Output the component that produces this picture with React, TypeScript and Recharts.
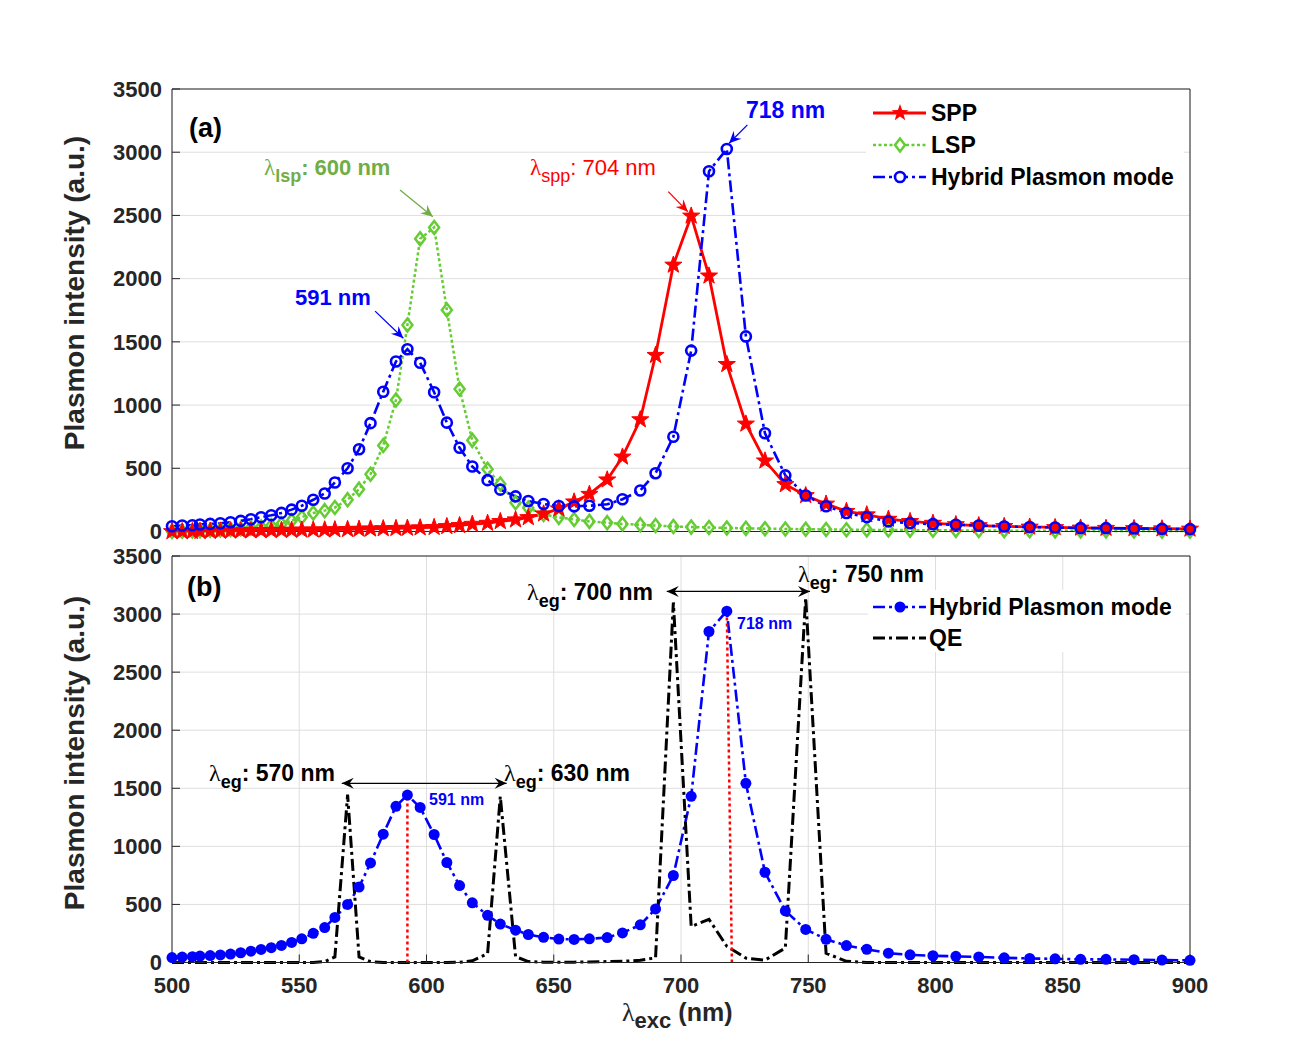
import React from 'react'
import { LineChart, Line, XAxis, YAxis, CartesianGrid, ReferenceLine } from 'recharts'

const C = {
  red: '#ff0000', green: '#66cc33', olive: '#70ad47', blue: '#0000ff',
  black: '#000000', axis: '#262626', grid: '#dedede',
}
const FONT = '"Liberation Sans", Arial, Helvetica, sans-serif'
const SERIF = '"Liberation Serif", "Times New Roman", serif'

// excitation wavelength (nm), shared by every curve
const wavelength = [
  500, 504, 508, 511, 515, 519, 523, 527, 531, 535, 539, 543, 547, 551, 555.5, 560,
  564, 569, 573.5, 578, 583, 588, 592.5, 597.5, 603, 608, 613, 618, 624, 629, 635, 640,
  646, 652, 658, 664, 671, 677, 684, 690, 697, 704, 711, 718, 725.5, 733, 741, 749,
  757, 765, 773, 781.5, 790, 799, 808, 817, 827, 837, 847, 857, 867, 878, 889, 900,
]
const sppIntensity = [
  0, 0, 1, 2, 3, 4, 5, 6, 7, 8, 9, 10, 11, 12, 13, 14,
  15, 17, 19, 21, 23, 25, 27, 30, 33, 40, 48, 58, 66, 80, 93, 111,
  140, 180, 235, 295, 409, 590, 885, 1394, 2108, 2496, 2022, 1322, 851, 559, 372, 285,
  218, 160, 133, 98, 80, 66, 55, 47, 41, 36, 32, 28, 26, 24, 22, 20,
]
const lspIntensity = [
  0, 2, 4, 7, 10, 13, 17, 22, 28, 36, 46, 60, 86, 113, 147, 165,
  190, 252, 335, 453, 680, 1040, 1633, 2315, 2405, 1752, 1127, 721, 492, 376, 228, 186,
  135, 112, 95, 80, 70, 60, 53, 47, 40, 35, 32, 28, 25, 22, 20, 18,
  16, 14, 13, 12, 11, 10, 9, 8, 7, 6, 5, 5, 4, 4, 3, 3,
]
const hybridIntensity = [
  42, 47, 50, 55, 60, 65, 73, 84, 97, 113, 128, 147, 173, 204, 251, 301,
  388, 500, 650, 857, 1105, 1345, 1442, 1335, 1102, 861, 662, 514, 406, 331, 278, 241,
  217, 202, 199, 204, 215, 255, 324, 461, 749, 1431, 2850, 3025, 1543, 777, 444, 285,
  200, 146, 114, 80, 66, 58, 53, 48, 40, 35, 32, 27, 27, 24, 21, 19,
]
const qeIntensity = [
  0, 0, 0, 0, 0, 0, 0, 0, 0, 0, 0, 0, 0, 0, 0, 8,
  48, 1445, 48, 8, 0, 0, 0, 0, 0, 0, 2, 15, 75, 1430, 50, 8,
  3, 3, 3, 5, 8, 10, 20, 40, 3100, 310, 372, 140, 38, 20, 125, 3140,
  80, 10, 0, 0, 0, 0, 0, 0, 0, 0, 0, 0, 0, 0, 0, 0,
]
const xTicks = [500, 550, 600, 650, 700, 750, 800, 850, 900]
const yTicks = [0, 500, 1000, 1500, 2000, 2500, 3000, 3500]

const topData = wavelength.map((w, i) => ({
  w, spp: sppIntensity[i], lsp: lspIntensity[i], hybrid: hybridIntensity[i],
}))
const bottomData = wavelength.map((w, i) => ({ w, hybrid: hybridIntensity[i], qe: qeIntensity[i] }))

function starPoints(cx: number, cy: number, R: number, r: number) {
  const pts: string[] = []
  for (let k = 0; k < 10; k++) {
    const rad = k % 2 === 0 ? R : r
    const a = -Math.PI / 2 + (k * Math.PI) / 5
    pts.push(`${cx + rad * Math.cos(a)},${cy + rad * Math.sin(a)}`)
  }
  return pts.join(' ')
}

function StarDot(p: any) {
  if (p.cx == null || p.cy == null) return <g key={p.index} />
  return <polygon key={p.index} points={starPoints(p.cx, p.cy, 9, 3.6)} fill={C.red} stroke={C.red} strokeWidth={1} />
}
function DiamondDot(p: any) {
  if (p.cx == null || p.cy == null) return <g key={p.index} />
  const { cx, cy } = p
  return (
    <polygon key={p.index} points={`${cx},${cy - 6.5} ${cx + 5},${cy} ${cx},${cy + 6.5} ${cx - 5},${cy}`}
      fill="none" stroke={C.green} strokeWidth={2.5} />
  )
}
function RingDot(p: any) {
  if (p.cx == null || p.cy == null) return <g key={p.index} />
  return <circle key={p.index} cx={p.cx} cy={p.cy} r={5} fill="none" stroke={C.blue} strokeWidth={2.6} />
}
function FilledDot(p: any) {
  if (p.cx == null || p.cy == null) return <g key={p.index} />
  return <circle key={p.index} cx={p.cx} cy={p.cy} r={5.5} fill={C.blue} />
}

function arrowHead(tx: number, ty: number, fx: number, fy: number, color: string) {
  const a = Math.atan2(ty - fy, tx - fx)
  const ux = Math.cos(a), uy = Math.sin(a)
  const nx = -uy, ny = ux
  const L = 12, W = 5.5
  const bx = tx - L * ux, by = ty - L * uy
  const mx = tx - 0.65 * L * ux, my = ty - 0.65 * L * uy
  return (
    <polygon points={`${tx},${ty} ${bx + W * nx},${by + W * ny} ${mx},${my} ${bx - W * nx},${by - W * ny}`} fill={color} />
  )
}

function makeArrow(color: string, both = false) {
  return (p: any) => {
    const { x1, y1, x2, y2 } = p
    return (
      <g>
        <line x1={x1} y1={y1} x2={x2} y2={y2} stroke={color} strokeWidth={1.3} />
        {arrowHead(x2, y2, x1, y1, color)}
        {both && arrowHead(x1, y1, x2, y2, color)}
      </g>
    )
  }
}

const tickFont = { fill: C.axis, fontSize: 22, fontWeight: 'bold', fontFamily: FONT }

// λ with a bold subscript, as MATLAB's tex interpreter draws it
function Lambda({ x, y, sub, rest, size, subSize, color, bold = true }: any) {
  return (
    <text x={x} y={y} fontSize={size} fontWeight={bold ? 'bold' : 'normal'} fill={color}>
      <tspan fontFamily={SERIF} fontWeight="normal" fontSize={size + 1}>λ</tspan>
      <tspan dy={7} fontSize={subSize}>{sub}</tspan>
      <tspan dy={-7}>{rest}</tspan>
    </text>
  )
}

export default function App() {
  return (
    <div style={{ position: 'absolute', left: 0, top: 0, width: 1312, height: 1043, background: '#fff', fontFamily: FONT }}>
      {/* (a) SPP / LSP / hybrid */}
      <div style={{ position: 'absolute', left: 0, top: 0 }}>
        <LineChart width={1312} height={545} data={topData} margin={{ top: 88, right: 121, bottom: 12.5, left: 112 }}>
          <CartesianGrid stroke={C.grid} strokeWidth={1} />
          <XAxis xAxisId={0} type="number" dataKey="w" domain={[500, 900]} ticks={xTicks} interval={0}
            tick={false} tickSize={-8} height={1} stroke={C.axis} />
          <XAxis xAxisId="t" orientation="top" type="number" dataKey="w" domain={[500, 900]} ticks={xTicks} interval={0}
            tick={false} tickSize={-8} height={1} stroke={C.axis} />
          <YAxis yAxisId={0} type="number" domain={[0, 3500]} ticks={yTicks} interval={0} width={60}
            tickSize={-8} tickMargin={18} tick={tickFont} stroke={C.axis} />
          <YAxis yAxisId="r" orientation="right" type="number" domain={[0, 3500]} ticks={yTicks} interval={0} width={1}
            tickSize={-8} tick={false} stroke={C.axis} />
          <Line xAxisId={0} yAxisId={0} type="linear" dataKey="lsp" stroke={C.green} strokeWidth={2.5}
            strokeDasharray="3 2.5" dot={DiamondDot} activeDot={false} isAnimationActive={false} />
          <Line xAxisId={0} yAxisId={0} type="linear" dataKey="spp" stroke={C.red} strokeWidth={2.8}
            dot={StarDot} activeDot={false} isAnimationActive={false} />
          <Line xAxisId={0} yAxisId={0} type="linear" dataKey="hybrid" stroke={C.blue} strokeWidth={2.6}
            strokeDasharray="12 4 3 4" dot={RingDot} activeDot={false} isAnimationActive={false} />
          <ReferenceLine xAxisId={0} yAxisId={0} segment={[{ x: 579.8, y: 1743 }, { x: 590.9, y: 1529 }]} stroke={C.blue} shape={makeArrow(C.blue)} />
          <ReferenceLine xAxisId={0} yAxisId={0} segment={[{ x: 589.6, y: 2702 }, { x: 602.5, y: 2490 }]} stroke={C.olive} shape={makeArrow(C.olive)} />
          <ReferenceLine xAxisId={0} yAxisId={0} segment={[{ x: 695.0, y: 2688 }, { x: 702.7, y: 2530 }]} stroke={C.red} shape={makeArrow(C.red)} />
          <ReferenceLine xAxisId={0} yAxisId={0} segment={[{ x: 726.1, y: 3216 }, { x: 718.9, y: 3071 }]} stroke={C.blue} shape={makeArrow(C.blue)} />
        </LineChart>
      </div>

      {/* (b) hybrid vs QE */}
      <div style={{ position: 'absolute', left: 0, top: 540 }}>
        <LineChart width={1312} height={503} data={bottomData} margin={{ top: 15, right: 121, bottom: 40.5, left: 112 }}>
          <CartesianGrid stroke={C.grid} strokeWidth={1} />
          <XAxis xAxisId={0} type="number" dataKey="w" domain={[500, 900]} ticks={xTicks} interval={0}
            tickSize={-8} tickMargin={23} height={40} tick={tickFont} stroke={C.axis} />
          <XAxis xAxisId="t" orientation="top" type="number" dataKey="w" domain={[500, 900]} ticks={xTicks} interval={0}
            tick={false} tickSize={-8} height={1} stroke={C.axis} />
          <YAxis yAxisId={0} type="number" domain={[0, 3500]} ticks={yTicks} interval={0} width={60}
            tickSize={-8} tickMargin={18} tick={tickFont} stroke={C.axis} />
          <YAxis yAxisId="r" orientation="right" type="number" domain={[0, 3500]} ticks={yTicks} interval={0} width={1}
            tickSize={-8} tick={false} stroke={C.axis} />
          <Line xAxisId={0} yAxisId={0} type="linear" dataKey="hybrid" stroke={C.blue} strokeWidth={2.6}
            strokeDasharray="12 4 3 4" dot={FilledDot} activeDot={false} isAnimationActive={false} />
          <Line xAxisId={0} yAxisId={0} type="linear" dataKey="qe" stroke={C.black} strokeWidth={3}
            strokeDasharray="12 4 3 4" dot={false} activeDot={false} isAnimationActive={false} />
          <ReferenceLine xAxisId={0} yAxisId={0} segment={[{ x: 592.5, y: 0 }, { x: 592.5, y: 1442 }]} stroke={C.red} strokeWidth={2.5} strokeDasharray="3 3" />
          <ReferenceLine xAxisId={0} yAxisId={0} segment={[{ x: 720, y: 0 }, { x: 718, y: 3025 }]} stroke={C.red} strokeWidth={2.5} strokeDasharray="3 3" />
          <ReferenceLine xAxisId={0} yAxisId={0} segment={[{ x: 566.7, y: 1543 }, { x: 631.5, y: 1543 }]} stroke={C.black} shape={makeArrow(C.black, true)} />
          <ReferenceLine xAxisId={0} yAxisId={0} segment={[{ x: 694.4, y: 3195 }, { x: 750.7, y: 3195 }]} stroke={C.black} shape={makeArrow(C.black, true)} />
        </LineChart>
      </div>

      {/* text annotations, legends and axis titles */}
      <svg width={1312} height={1043} style={{ position: 'absolute', left: 0, top: 0, pointerEvents: 'none' }} fontFamily={FONT}>
        {/* legend boxes first so labels sit above them */}
        <rect x={866} y={96} width={318} height={95} fill="#fff" />
        <rect x={868} y={590} width={318} height={62} fill="#fff" />

        <text x={189} y={137} fontSize={27} fontWeight="bold" fill={C.black}>(a)</text>
        <text x={187} y={596} fontSize={27} fontWeight="bold" fill={C.black}>(b)</text>

        <Lambda x={264} y={175} sub="lsp" rest=": 600 nm" size={22} subSize={18} color={C.olive} />
        <text x={295} y={305} fontSize={22} fontWeight="bold" fill={C.blue}>591 nm</text>
        <Lambda x={530} y={175} sub="spp" rest=": 704 nm" size={22} subSize={18} color={C.red} bold={false} />
        <text x={746} y={118} fontSize={23} fontWeight="bold" fill={C.blue}>718 nm</text>

        {/* legend (a) */}
        <line x1={873} y1={113} x2={926} y2={113} stroke={C.red} strokeWidth={2.8} />
        <polygon points={starPoints(900, 113, 9, 3.6)} fill={C.red} />
        <text x={931} y={121} fontSize={23} fontWeight="bold" fill={C.black}>SPP</text>
        <line x1={873} y1={145} x2={926} y2={145} stroke={C.green} strokeWidth={2.5} strokeDasharray="3 2.5" />
        <polygon points="900,138.5 905,145 900,151.5 895,145" fill="#fff" stroke={C.green} strokeWidth={2.5} />
        <text x={931} y={153} fontSize={23} fontWeight="bold" fill={C.black}>LSP</text>
        <line x1={873} y1={177} x2={926} y2={177} stroke={C.blue} strokeWidth={2.6} strokeDasharray="12 4 3 4" />
        <circle cx={900} cy={177} r={5} fill="#fff" stroke={C.blue} strokeWidth={2.6} />
        <text x={931} y={185} fontSize={23} fontWeight="bold" fill={C.black}>Hybrid Plasmon mode</text>

        {/* (b) labels */}
        <Lambda x={527} y={600} sub="eg" rest=": 700 nm" size={23} subSize={18} color={C.black} />
        <Lambda x={798} y={582} sub="eg" rest=": 750 nm" size={23} subSize={18} color={C.black} />
        <Lambda x={209} y={781} sub="eg" rest=": 570 nm" size={23} subSize={18} color={C.black} />
        <Lambda x={504} y={781} sub="eg" rest=": 630 nm" size={23} subSize={18} color={C.black} />
        <text x={737} y={629} fontSize={16} fontWeight="bold" fill={C.blue}>718 nm</text>
        <text x={429} y={805} fontSize={16} fontWeight="bold" fill={C.blue}>591 nm</text>

        {/* legend (b) */}
        <line x1={873} y1={607} x2={926} y2={607} stroke={C.blue} strokeWidth={2.6} strokeDasharray="12 4 3 4" />
        <circle cx={900} cy={607} r={5.5} fill={C.blue} />
        <text x={929} y={615} fontSize={23} fontWeight="bold" fill={C.black}>Hybrid Plasmon mode</text>
        <line x1={873} y1={638} x2={926} y2={638} stroke={C.black} strokeWidth={3} strokeDasharray="12 4 3 4" />
        <text x={929} y={646} fontSize={23} fontWeight="bold" fill={C.black}>QE</text>

        {/* axis titles */}
        <text transform="translate(84,293) rotate(-90)" textAnchor="middle" fontSize={28} fontWeight="bold" fill={C.axis}>
          Plasmon intensity (a.u.)
        </text>
        <text transform="translate(84,753) rotate(-90)" textAnchor="middle" fontSize={28} fontWeight="bold" fill={C.axis}>
          Plasmon intensity (a.u.)
        </text>
        <text x={622} y={1021} fontSize={25} fontWeight="bold" fill={C.axis}>
          <tspan fontFamily={SERIF} fontWeight="normal" fontSize={26}>λ</tspan>
          <tspan dy={7} fontSize={22}>exc</tspan>
          <tspan dy={-7} dx={7}>(nm)</tspan>
        </text>
      </svg>
    </div>
  )
}
